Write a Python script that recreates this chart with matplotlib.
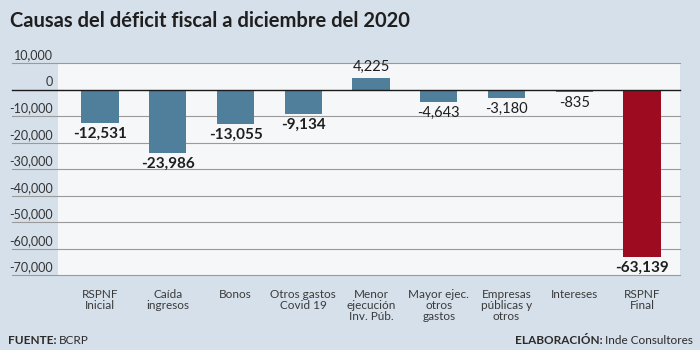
import matplotlib
matplotlib.use("Agg")
import matplotlib.pyplot as plt
from matplotlib.transforms import blended_transform_factory

# Data
categories = ["RSPNF\nInicial", "Caída\ningresos", "Bonos", "Otros gastos\nCovid 19",
              "Menor\nejecución\nInv. Púb.", "Mayor ejec.\notros\ngastos",
              "Empresas\npúblicas y\notros", "Intereses", "RSPNF\nFinal"]
values = [-12531, -23986, -13055, -9134, 4225, -4643, -3180, -835, -63139]
y_ticks = [10000, 0, -10000, -20000, -30000, -40000, -50000, -60000, -70000]

BG = "#d6e0ea"
PLOT_BG = "#f6f7f9"
BLUE = "#4f7f9a"
RED = "#9c0b1f"
TXT = "#2a2a2a"
FONT = ["Lato", "DejaVu Sans"]

fig = plt.figure(figsize=(7, 3.5), dpi=100, facecolor=BG)
ax = fig.add_axes([58 / 700, 1 - 275 / 350, 622 / 700, 212 / 350], facecolor=PLOT_BG)

x = list(range(len(values)))
colors = [BLUE] * (len(values) - 1) + [RED]
bars = ax.bar(x, values, width=0.55, color=colors, zorder=3)

ax.set_xlim(-0.62, 8.56)
ax.set_ylim(-70000, 10000)
for s in ax.spines.values():
    s.set_visible(False)
ax.set_xticks([])
ax.set_yticks([])

# gridlines extend past the plot area under the tick labels
trans = blended_transform_factory(ax.transAxes, ax.transData)
for t in y_ticks:
    lc = "#1a1a1a" if t == 0 else "#9a9a9a"
    lw = 1.0 if t == 0 else 0.8
    ax.plot([-0.074, 1.0], [t, t], transform=trans, color=lc, lw=lw,
            clip_on=False, zorder=2 if t else 4)
    ax.annotate(f"{t:,}", xy=(-0.008, t), xycoords=trans, xytext=(0, 1),
                textcoords="offset points", ha="right", va="bottom",
                fontsize=9, color="#333333", family=FONT, annotation_clip=False)

# value labels
bold = [True, True, True, True, False, False, False, False, True]
for xi, v, b in zip(x, values, bold):
    off = 3 if v > 0 else -3
    ax.annotate(f"{v:,}", xy=(xi, v), xytext=(0, off), textcoords="offset points",
                ha="center", va="bottom" if v > 0 else "top",
                fontsize=11 if b else 10.5, fontweight="bold" if b else "normal",
                color="#1e1e1e", family=FONT, zorder=5)

# category labels
for xi, c in zip(x, categories):
    ax.annotate(c, xy=(xi, 0), xycoords=("data", "axes fraction"), xytext=(0, -10),
                textcoords="offset points", ha="center", va="top", fontsize=8.5,
                color="#3a3a3a", family=FONT, linespacing=1.0, annotation_clip=False)

# title and footer
fig.text(10 / 700, 1 - 21 / 350, "Causas del déficit fiscal a diciembre del 2020",
         fontsize=14.5, fontweight="bold", color="#1f1f1f", va="center", family=FONT)

fuente = fig.text(8 / 700, 1 - 341 / 350, "FUENTE:", fontsize=8.5, color=TXT,
                  va="center", fontweight="bold", family=FONT)
fig.canvas.draw()
bb = fuente.get_window_extent()
fig.text(bb.x1 / 700 + 2 / 700, 1 - 341 / 350, "BCRP", fontsize=8.5, color=TXT,
         va="center", family=FONT)

foot_r = fig.text(693 / 700, 1 - 341 / 350, "Inde Consultores", fontsize=8.5,
                  color=TXT, va="center", ha="right", family=FONT)
fig.canvas.draw()
bb = foot_r.get_window_extent()
fig.text(bb.x0 / 700 - 2 / 700, 1 - 341 / 350, "ELABORACIÓN:", fontsize=8.5, color=TXT,
         va="center", ha="right", fontweight="bold", family=FONT)

fig.savefig("out.png", dpi=100, facecolor=BG)
